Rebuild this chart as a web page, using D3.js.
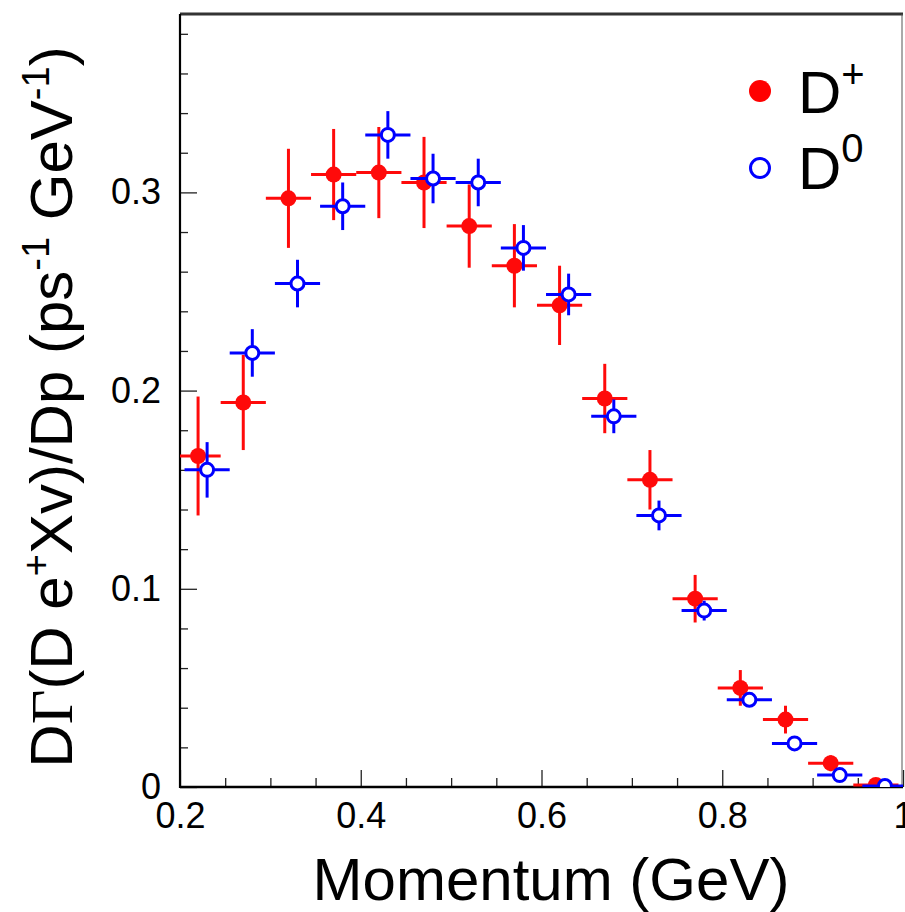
<!DOCTYPE html>
<html>
<head>
<meta charset="utf-8">
<script src="https://cdn.jsdelivr.net/npm/d3@7"></script>
<style>
  body { margin: 0; background: #fff; }
  text { font-family: "Liberation Sans", Arial, Helvetica, sans-serif; fill: #000; }
</style>
</head>
<body>
<div id="chart"></div>
<script>
// D+ (filled red) : momentum bin centre, rate, error
const dplusP    = [0.22, 0.27, 0.32, 0.37, 0.42, 0.47, 0.52, 0.57, 0.62, 0.67, 0.72, 0.77, 0.82, 0.87, 0.92, 0.97];
const dplusRate = [0.167, 0.194, 0.297, 0.309, 0.310, 0.305, 0.283, 0.263, 0.243, 0.196, 0.155, 0.095, 0.050, 0.034, 0.012, 0.001];
const dplusErr  = [0.030, 0.024, 0.025, 0.023, 0.023, 0.023, 0.021, 0.021, 0.020, 0.0175, 0.015, 0.012, 0.009, 0.007, 0.004, 0.002];

// D0 (open blue)
const dzeroP    = [0.23, 0.28, 0.33, 0.38, 0.43, 0.48, 0.53, 0.58, 0.63, 0.68, 0.73, 0.78, 0.83, 0.88, 0.93, 0.98];
const dzeroRate = [0.160, 0.219, 0.254, 0.293, 0.329, 0.307, 0.305, 0.272, 0.2485, 0.187, 0.137, 0.089, 0.044, 0.022, 0.006, 0.0005];
const dzeroErr  = [0.014, 0.012, 0.012, 0.012, 0.012, 0.0125, 0.012, 0.0115, 0.0105, 0.0085, 0.0075, 0.005, 0.003, 0.002, 0.0015, 0.001];

const binHalf = 0.025;

const xTicks = [0.2, 0.4, 0.6, 0.8, 1.0];
const xTickLabels = ['0.2', '0.4', '0.6', '0.8', '1'];
const xMinor = [0.25, 0.3, 0.35, 0.45, 0.5, 0.55, 0.65, 0.7, 0.75, 0.85, 0.9, 0.95];
const yTicks = [0, 0.1, 0.2, 0.3];
const yTickLabels = ['0', '0.1', '0.2', '0.3'];
const yMinor = [0.02, 0.04, 0.06, 0.08, 0.12, 0.14, 0.16, 0.18, 0.22, 0.24, 0.26, 0.28, 0.32, 0.34, 0.36, 0.38];

function renderChart() {
  const W = 905, H = 912;
  const svg = d3.select('#chart').append('svg')
    .attr('width', W)
    .attr('height', H);

  const x = d3.scaleLinear().domain([0.2, 1.0]).range([180, 903]);
  const y = d3.scaleLinear().domain([0, 0.39]).range([787, 14]);

  svg.append('clipPath').attr('id', 'plot-clip')
    .append('rect')
    .attr('x', x(0.2)).attr('y', y(0.39))
    .attr('width', x(1.0) - x(0.2)).attr('height', y(0) - y(0.39));

  // minor ticks
  const yMin = svg.append('g')
    .attr('transform', `translate(${x(0.2)},0)`)
    .call(d3.axisRight(y).tickValues(yMinor).tickSize(8).tickFormat(''));
  const xMin = svg.append('g')
    .attr('transform', `translate(0,${y(0)})`)
    .call(d3.axisTop(x).tickValues(xMinor).tickSize(9).tickFormat(''));

  // major ticks + labels
  const yAx = svg.append('g')
    .attr('transform', `translate(${x(0.2)},0)`)
    .call(d3.axisLeft(y).tickValues(yTicks).tickSizeInner(-17).tickSizeOuter(0)
      .tickPadding(19).tickFormat((d, i) => yTickLabels[i]));
  const xAx = svg.append('g')
    .attr('transform', `translate(0,${y(0)})`)
    .call(d3.axisBottom(x).tickValues(xTicks).tickSizeInner(-17).tickSizeOuter(0)
      .tickPadding(15).tickFormat((d, i) => xTickLabels[i]));

  [yMin, xMin, yAx, xAx].forEach(g => {
    g.select('.domain').remove();
    g.selectAll('line').attr('stroke', '#222').attr('stroke-width', 1.3);
  });
  [yAx, xAx].forEach(g => g.selectAll('text')
    .style('font-size', '36px')
    .attr('fill', '#000'));

  // frame
  svg.append('line').attr('x1', x(0.2)).attr('x2', x(1.0)).attr('y1', y(0.39)).attr('y2', y(0.39))
    .attr('stroke', '#333').attr('stroke-width', 3);
  svg.append('line').attr('x1', x(1.0) - 1).attr('x2', x(1.0) - 1).attr('y1', y(0.39)).attr('y2', y(0))
    .attr('stroke', '#555').attr('stroke-width', 1);
  svg.append('line').attr('x1', x(0.2)).attr('x2', x(0.2)).attr('y1', y(0.39)).attr('y2', y(0) + 1)
    .attr('stroke', '#000').attr('stroke-width', 2.2);
  svg.append('line').attr('x1', x(0.2)).attr('x2', x(1.0)).attr('y1', y(0)).attr('y2', y(0))
    .attr('stroke', '#000').attr('stroke-width', 2.6);

  const plot = svg.append('g').attr('clip-path', 'url(#plot-clip)');

  function drawSeries(ps, vals, errs, color, filled) {
    const pts = ps.map((p, i) => ({ p, v: vals[i], e: errs[i] }));
    const g = plot.append('g');
    g.selectAll('.hbar').data(pts).enter().append('line')
      .attr('x1', d => x(d.p - binHalf)).attr('x2', d => x(d.p + binHalf))
      .attr('y1', d => y(d.v)).attr('y2', d => y(d.v))
      .attr('stroke', color).attr('stroke-width', 3);
    g.selectAll('.vbar').data(pts).enter().append('line')
      .attr('x1', d => x(d.p)).attr('x2', d => x(d.p))
      .attr('y1', d => y(d.v - d.e)).attr('y2', d => y(d.v + d.e))
      .attr('stroke', color).attr('stroke-width', 3);
    g.selectAll('circle').data(pts).enter().append('circle')
      .attr('cx', d => x(d.p)).attr('cy', d => y(d.v))
      .attr('r', filled ? 8 : 6.5)
      .attr('fill', filled ? color : '#fff')
      .attr('stroke', color)
      .attr('stroke-width', filled ? 0 : 3);
  }

  drawSeries(dplusP, dplusRate, dplusErr, '#ff0a0a', true);
  drawSeries(dzeroP, dzeroRate, dzeroErr, '#0000ff', false);

  // legend
  const leg = svg.append('g');
  leg.append('circle').attr('cx', 760).attr('cy', 91).attr('r', 11).attr('fill', '#ff0000');
  leg.append('circle').attr('cx', 760).attr('cy', 168).attr('r', 9.5)
    .attr('fill', '#fff').attr('stroke', '#0000ff').attr('stroke-width', 3);
  const t1 = leg.append('text').attr('x', 798).attr('y', 113).style('font-size', '60px');
  t1.append('tspan').text('D');
  t1.append('tspan').attr('dy', -25).style('font-size', '40px').text('+');
  const t2 = leg.append('text').attr('x', 798).attr('y', 189).style('font-size', '60px');
  t2.append('tspan').text('D');
  t2.append('tspan').attr('dy', -27).style('font-size', '40px').text('0');

  // axis titles
  svg.append('text')
    .attr('x', 551).attr('y', 900)
    .attr('text-anchor', 'middle')
    .style('font-size', '60px')
    .text('Momentum (GeV)');

  const yt = svg.append('text')
    .attr('transform', 'translate(72,407) rotate(-90)')
    .attr('text-anchor', 'middle')
    .style('font-size', '60px');
  yt.append('tspan').text('D');
  yt.append('tspan').style('font-family', '"Liberation Serif", "DejaVu Serif", serif').text('Γ');
  yt.append('tspan').text('(D e');
  yt.append('tspan').attr('dy', -23).style('font-size', '38px').text('+');
  yt.append('tspan').attr('dy', 23).text('Xv)/Dp (ps');
  yt.append('tspan').attr('dy', -23).style('font-size', '38px').text('-1');
  yt.append('tspan').attr('dy', 23).text(' GeV');
  yt.append('tspan').attr('dy', -23).style('font-size', '38px').text('-1');
  yt.append('tspan').attr('dy', 23).text(')');
}

renderChart();
</script>
</body>
</html>
